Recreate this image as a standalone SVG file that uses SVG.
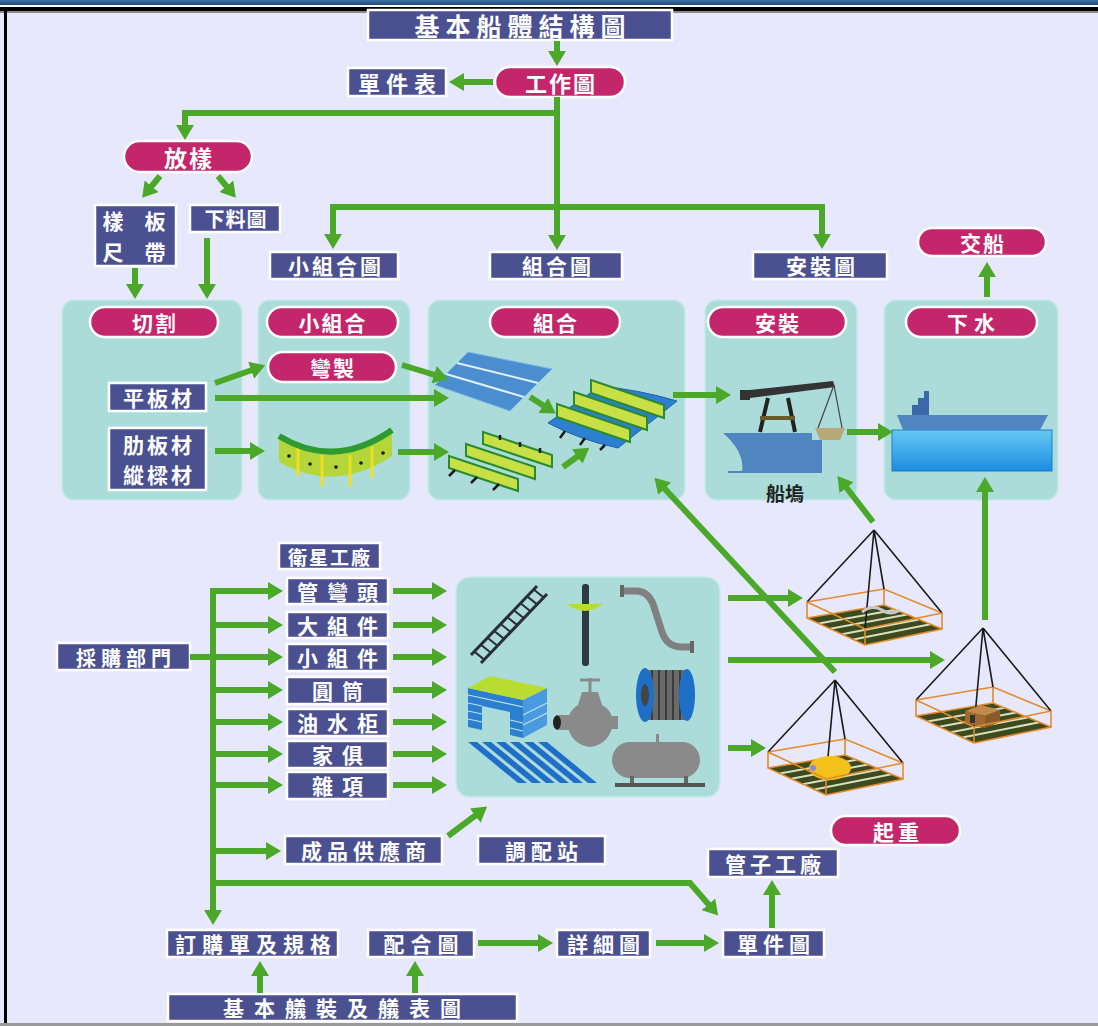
<svg xmlns="http://www.w3.org/2000/svg" width="1098" height="1026" viewBox="0 0 1098 1026">
<defs>
<style>
.box{fill:#4b5090;stroke:#fff;stroke-width:2.5}
.pill{fill:#c4266c;stroke:#fff;stroke-width:2.5}
.panel{fill:#acdcda;stroke:#c6eaea;stroke-width:1.5}
.t{font-family:"Noto Sans CJK TC","Noto Sans CJK SC",sans-serif;font-weight:700;fill:#fff;text-anchor:middle;dominant-baseline:central;font-size:21px}
.c{stroke:#4ca829;stroke-width:6;fill:none;marker-end:url(#ah)}
.ln{stroke:#4ca829;stroke-width:6;fill:none}
.cab{stroke:#1a1a1a;stroke-width:1.6;fill:none}
.fr{stroke:#e38a2c;stroke-width:1.6;fill:none}
</style>
<marker id="ah" markerUnits="userSpaceOnUse" markerWidth="15" markerHeight="18" viewBox="0 0 15 18" refX="1" refY="9" orient="auto"><path d="M0,0 L15,9 L0,18 z" fill="#4ca829"/></marker>
<linearGradient id="band" x1="0" y1="0" x2="0" y2="1"><stop offset="0" stop-color="#3d70a6"/><stop offset="1" stop-color="#22497a"/></linearGradient>
<linearGradient id="water" x1="0" y1="0" x2="0" y2="1"><stop offset="0" stop-color="#66c8f2"/><stop offset="1" stop-color="#1c8ce0"/></linearGradient>
<symbol id="pyr" overflow="visible">
<polygon points="-67,88 10,75 68,99 -9,115" fill="#3c4a1e"/>
<path d="M-55.4,93.4 L21.6,79.8 M-43.8,98.8 L33.2,84.6 M-32.2,104.2 L44.8,89.4 M-20.6,109.6 L56.4,94.2" stroke="#d6dfbf" stroke-width="2"/>
<path class="fr" d="M-67,72 L10,59 L68,83 M10,59 V75 M-67,88 L10,75 L68,99"/>
<path class="cab" d="M0,0 L-67,72 M0,0 L68,83 M0,0 L10,59 M0,0 L-9,99"/>
</symbol>
<symbol id="pyrf" overflow="visible">
<path class="fr" d="M-67,72 L-9,99 L68,83 M-67,72 V88 L-9,115 L68,99 V83 M-9,99 V115"/>
</symbol>
</defs>

<rect width="1098" height="1026" fill="#e8e8fc"/>
<rect width="1098" height="5" fill="url(#band)"/>
<rect y="5" width="1098" height="2" fill="#fff"/>
<rect y="7" width="1098" height="4" fill="#000"/>
<rect y="11" width="1098" height="2" fill="#8a8a8a"/>
<rect x="4" y="7" width="3" height="1019" fill="#000"/>
<rect y="1023" width="1098" height="3" fill="#9a9a9a"/>

<!-- panels -->
<g id="panel-cut"><rect class="panel" x="62" y="300" width="180" height="200" rx="12"/></g>
<g id="panel-subasm"><rect class="panel" x="258" y="300" width="152" height="200" rx="12"/></g>
<g id="panel-asm"><rect class="panel" x="428" y="300" width="257" height="200" rx="12"/></g>
<g id="panel-erect"><rect class="panel" x="705" y="300" width="152" height="200" rx="12"/></g>
<g id="panel-launch"><rect class="panel" x="884" y="300" width="174" height="200" rx="12"/></g>
<g id="panel-parts"><rect class="panel" x="456" y="577" width="264" height="220" rx="14"/></g>

<!-- top nodes -->
<g id="n-title"><rect class="box" x="368" y="10" width="304" height="30"/><text class="t" x="523" y="25" style="font-size:25px;letter-spacing:6px">基本船體結構圖</text></g>
<g id="n-workdwg"><rect class="pill" x="495" y="67" width="130" height="30" rx="15"/><text class="t" x="561" y="82" style="font-size:22px;letter-spacing:2px">工作圖</text></g>
<g id="n-partlist"><rect class="box" x="348" y="68" width="98" height="28"/><text class="t" x="400" y="82" style="font-size:22px;letter-spacing:6px">單件表</text></g>
<g id="n-loft"><rect class="pill" x="124" y="141" width="128" height="31" rx="15.5"/><text class="t" x="189" y="157" style="font-size:23px;letter-spacing:2px">放樣</text></g>
<g id="n-template"><rect class="box" x="95" y="205" width="81" height="61"/><text class="t" x="138" y="220" style="font-size:21px;letter-spacing:8px">樣 板</text><text class="t" x="138" y="251" style="font-size:21px;letter-spacing:8px">尺 帶</text></g>
<g id="n-cutdwg"><rect class="box" x="190" y="205" width="90" height="27"/><text class="t" x="236" y="218" style="font-size:20px;letter-spacing:1px">下料圖</text></g>
<g id="n-subasmdwg"><rect class="box" x="270" y="252" width="128" height="27"/><text class="t" x="336" y="265" style="letter-spacing:3px">小組合圖</text></g>
<g id="n-asmdwg"><rect class="box" x="490" y="252" width="132" height="27"/><text class="t" x="558" y="265" style="letter-spacing:3px">組合圖</text></g>
<g id="n-erectdwg"><rect class="box" x="753" y="252" width="134" height="27"/><text class="t" x="822" y="265" style="letter-spacing:3px">安裝圖</text></g>
<g id="n-delivery"><rect class="pill" x="918" y="228" width="128" height="28" rx="14"/><text class="t" x="983" y="242" style="letter-spacing:2px">交船</text></g>

<!-- panel labels -->
<g id="n-cut"><rect class="pill" x="90" y="307" width="128" height="30" rx="15"/><text class="t" x="155" y="322" style="letter-spacing:2px">切割</text></g>
<g id="n-subasm"><rect class="pill" x="267" y="307" width="131" height="30" rx="15"/><text class="t" x="333" y="322" style="letter-spacing:2px">小組合</text></g>
<g id="n-asm"><rect class="pill" x="490" y="307" width="130" height="30" rx="15"/><text class="t" x="556" y="322" style="letter-spacing:2px">組合</text></g>
<g id="n-erect"><rect class="pill" x="708" y="307" width="138" height="30" rx="15"/><text class="t" x="778" y="322" style="letter-spacing:2px">安裝</text></g>
<g id="n-launch"><rect class="pill" x="906" y="307" width="131" height="30" rx="15"/><text class="t" x="974" y="322" style="letter-spacing:6px">下水</text></g>
<g id="n-bend"><rect class="pill" x="268" y="352" width="128" height="30" rx="15"/><text class="t" x="333" y="367" style="letter-spacing:2px">彎製</text></g>
<g id="n-plate"><rect class="box" x="109" y="383" width="97" height="28"/><text class="t" x="159" y="397" style="letter-spacing:3px">平板材</text></g>
<g id="n-frames"><rect class="box" x="109" y="428" width="97" height="62"/><text class="t" x="159" y="444" style="letter-spacing:3px">肋板材</text><text class="t" x="159" y="474" style="letter-spacing:3px">縱樑材</text></g>

<!-- curved sub-assembly -->
<g id="img-curved">
<path d="M279,436 Q335,470 392,430 L392,456 Q335,494 279,462 Z" fill="#b5d63a"/>
<path d="M298,447 V476 M322,455 V486 M350,455 V486 M372,447 V478" stroke="#f0e020" stroke-width="3"/>
<path d="M279,436 Q335,470 392,430" stroke="#2f9a30" stroke-width="6" fill="none"/>
<g fill="#1a1a1a"><circle cx="289" cy="456" r="1.8"/><circle cx="310" cy="464" r="1.8"/><circle cx="336" cy="467" r="1.8"/><circle cx="361" cy="463" r="1.8"/><circle cx="383" cy="453" r="1.8"/></g>
</g>

<!-- plates -->
<g id="img-plates">
<polygon points="468,352 552,369 510,411 435,385" fill="#4a8ed0" stroke="#7ab8e8" stroke-width="1"/>
<path d="M457,363 L538,383 M446,374 L524,397" stroke="#e2f0fb" stroke-width="2"/>
</g>

<!-- stiffened panel -->
<g id="img-block">
<path d="M548,423 L600,386 Q640,390 677,401 L618,448 Q580,440 548,423 Z" fill="#2d7fd0" stroke="#1f5fa8" stroke-width="1"/>
<g stroke="#1a1a1a" stroke-width="2.5"><path d="M565,431 l-5,7 M585,438 l-5,7 M605,445 l-5,5"/></g>
<g>
<polygon points="591,380 664,405 664,418 591,393" fill="#c8e046" stroke="#2a8a30" stroke-width="2"/>
<polygon points="574,392 647,417 647,430 574,405" fill="#c8e046" stroke="#2a8a30" stroke-width="2"/>
<polygon points="557,404 630,429 630,442 557,417" fill="#c8e046" stroke="#2a8a30" stroke-width="2"/>
</g>
</g>

<!-- loose stiffeners -->
<g id="img-stiff">
<polygon points="483,432 552,455 552,467 483,444" fill="#c8e046" stroke="#2a8a30" stroke-width="2"/>
<polygon points="466,444 535,467 535,479 466,456" fill="#c8e046" stroke="#2a8a30" stroke-width="2"/>
<polygon points="449,456 518,479 518,491 449,468" fill="#c8e046" stroke="#2a8a30" stroke-width="2"/>
<g stroke="#1a1a1a" stroke-width="2.5"><path d="M455,470 l-6,6 M477,477 l-6,6 M499,484 l-6,6 M500,440 l0,-5 M520,447 l0,-5 M540,453 l0,-5"/></g>
</g>

<!-- erection: crane and hull -->
<g id="img-erect">
<path d="M723,433 L812,433 L812,440 L822,440 L822,472 L742,472 Q745,452 723,433 Z" fill="#4f86c0"/>
<path d="M728,472 H822" stroke="#4f86c0" stroke-width="2"/>
<path d="M768,398 L760,432 M788,398 L795,432" stroke="#222" stroke-width="4"/>
<path d="M760,418 H795" stroke="#6b5a2a" stroke-width="4"/>
<polygon points="740,391 833,381 835,387 742,399" fill="#333"/>
<rect x="740" y="390" width="10" height="10" fill="#333"/>
<path d="M834,385 L818,428 M834,385 L842,428" stroke="#444" stroke-width="1.2"/>
<polygon points="815,428 845,428 840,440 820,440" fill="#b8a878"/>
<text x="785" y="492" style="font-family:'Noto Sans CJK TC',sans-serif;font-weight:700;font-size:19px;fill:#222;text-anchor:middle;dominant-baseline:central">船塢</text>
</g>

<!-- launch -->
<g id="img-launch">
<rect x="892" y="430" width="160" height="41" fill="url(#water)" stroke="#1a7fd0" stroke-width="1"/>
<path d="M897,415 L1048,415 L1040,430 L903,430 Z" fill="#4f86c0"/>
<path d="M912,415 V405 H918 V398 H924 V391 H929 V415 Z" fill="#3a68a8"/>
</g>

<!-- purchasing side -->
<g id="n-purchase"><rect class="box" x="57" y="643" width="133" height="27"/><text class="t" x="126" y="657" style="font-size:20px;letter-spacing:5px">採購部門</text></g>
<g id="n-satellite"><rect class="box" x="279" y="543" width="101" height="26"/><text class="t" x="330" y="556" style="font-size:19px;letter-spacing:2px">衛星工廠</text></g>
<g id="n-pipebend"><rect class="box" x="287" y="578" width="101" height="26"/><text class="t" x="342" y="591" style="letter-spacing:9px">管彎頭</text></g>
<g id="n-bigunit"><rect class="box" x="287" y="612" width="101" height="26"/><text class="t" x="342" y="625" style="letter-spacing:9px">大組件</text></g>
<g id="n-smallunit"><rect class="box" x="287" y="644" width="101" height="27"/><text class="t" x="342" y="657" style="letter-spacing:9px">小組件</text></g>
<g id="n-cylinder"><rect class="box" x="287" y="677" width="101" height="27"/><text class="t" x="342" y="690" style="letter-spacing:9px">圓筒</text></g>
<g id="n-tank"><rect class="box" x="287" y="709" width="101" height="27"/><text class="t" x="342" y="722" style="letter-spacing:9px">油水柜</text></g>
<g id="n-furniture"><rect class="box" x="287" y="741" width="101" height="27"/><text class="t" x="342" y="754" style="letter-spacing:9px">家俱</text></g>
<g id="n-misc"><rect class="box" x="287" y="772" width="101" height="27"/><text class="t" x="342" y="785" style="letter-spacing:9px">雜項</text></g>
<g id="n-supplier"><rect class="box" x="285" y="836" width="157" height="28"/><text class="t" x="366" y="850" style="letter-spacing:5px">成品供應商</text></g>
<g id="n-station"><rect class="box" x="478" y="836" width="127" height="28"/><text class="t" x="544" y="850" style="letter-spacing:5px">調配站</text></g>
<g id="n-hoist"><rect class="pill" x="831" y="816" width="129" height="29" rx="14.5"/><text class="t" x="898" y="831" style="letter-spacing:4px">起重</text></g>
<g id="n-pipeshop"><rect class="box" x="708" y="849" width="130" height="28"/><text class="t" x="775" y="863" style="letter-spacing:4px">管子工廠</text></g>
<g id="n-partdwg"><rect class="box" x="723" y="930" width="101" height="27"/><text class="t" x="776" y="943" style="letter-spacing:5px">單件圖</text></g>
<g id="n-detail"><rect class="box" x="557" y="930" width="93" height="27"/><text class="t" x="606" y="943" style="letter-spacing:5px">詳細圖</text></g>
<g id="n-coord"><rect class="box" x="368" y="930" width="106" height="27"/><text class="t" x="424" y="943" style="letter-spacing:6px">配合圖</text></g>
<g id="n-order"><rect class="box" x="167" y="930" width="171" height="27"/><text class="t" x="256" y="943" style="letter-spacing:6px">訂購單及規格</text></g>
<g id="n-outfit"><rect class="box" x="168" y="994" width="349" height="27"/><text class="t" x="347" y="1007" style="letter-spacing:10px">基本艤裝及艤表圖</text></g>

<!-- parts illustrations -->
<g id="img-parts">
<g stroke="#2a2e3a">
<path d="M471,655 L537,586 M481,663 L547,594" stroke-width="3"/>
<path d="M474.3,651.6 L484.3,659.6 M480.9,644.7 L490.9,652.7 M487.5,637.8 L497.5,645.8 M494.1,630.9 L504.1,638.9 M500.7,624 L510.7,632 M507.3,617.1 L517.3,625.1 M513.9,610.2 L523.9,618.2 M520.5,603.3 L530.5,611.3 M527.1,596.4 L537.1,604.4 M533.7,589.5 L543.7,597.5" stroke-width="2"/>
</g>
<rect x="582" y="584" width="7" height="82" rx="3" fill="#2f3a40"/>
<path d="M567,604 Q585,618 603,604 Z" fill="#b8dc30"/>
<path d="M622,591 H636 Q650,591 655,610 L662,632 Q667,647 682,647 H692" stroke="#808080" stroke-width="7" fill="none"/>
<rect x="620" y="585" width="4" height="12" fill="#666"/><rect x="690" y="641" width="4" height="12" fill="#666"/>
<polygon points="468,688 523,700 523,738 510,735 510,712 482,706 482,730 468,727" fill="#2a7fd0"/>
<polygon points="523,700 547,688 547,725 523,738" fill="#4a9ae0"/>
<path d="M468,695 L523,707 M468,703 L482,706 M468,711 L482,714 M468,719 L482,722 M510,720 L523,723 M510,728 L523,731 M523,715 L547,703 M523,725 L547,713" stroke="#bfe0f8" stroke-width="1.2"/>
<polygon points="468,688 490,676 547,688 523,700" fill="#b8dc30"/>
<path d="M590,678 V693 M580,680 H600" stroke="#8a8a8a" stroke-width="3"/>
<path d="M582,692 H598 L602,705 Q615,712 612,728 Q607,745 590,747 Q573,745 568,728 Q566,712 578,705 Z" fill="#8a8a8a"/>
<rect x="556" y="715" width="18" height="15" fill="#8a8a8a"/><ellipse cx="557" cy="722.5" rx="4" ry="7" fill="#222"/>
<rect x="608" y="716" width="10" height="13" fill="#8a8a8a"/>
<rect x="645" y="670" width="42" height="50" fill="#6a6a6a"/>
<path d="M652,670 V720 M659,670 V720 M666,670 V720 M673,670 V720 M680,670 V720" stroke="#3c3c3c" stroke-width="2"/>
<ellipse cx="687" cy="695" rx="8" ry="26" fill="#1e6fc8"/>
<ellipse cx="645" cy="695" rx="9" ry="27" fill="#1e6fc8"/>
<ellipse cx="645" cy="695" rx="4" ry="11" fill="#444"/>
<g fill="#1f6fc8">
<polygon points="468,742 477,742 527,783 518,783"/>
<polygon points="482,742 491,742 541,783 532,783"/>
<polygon points="496,742 505,742 555,783 546,783"/>
<polygon points="510,742 519,742 569,783 560,783"/>
<polygon points="524,742 533,742 583,783 574,783"/>
<polygon points="538,742 547,742 597,783 588,783"/>
</g>
<rect x="656" y="734" width="3" height="9" fill="#8a8a8a"/>
<rect x="612" y="742" width="88" height="36" rx="18" fill="#8a8a8a"/>
<rect x="630" y="776" width="4" height="8" fill="#666"/><rect x="684" y="776" width="4" height="8" fill="#666"/>
<rect x="615" y="783" width="90" height="4" fill="#555"/>
</g>

<!-- pyramids -->
<g id="pyr1" transform="translate(874,530)">
<use href="#pyr"/>
<path d="M-12,82 q10,-8 20,-2 q8,6 18,0" stroke="#c8c8c8" stroke-width="3" fill="none"/>
<use href="#pyrf"/>
</g>
<g id="pyr2" transform="translate(983,628)">
<use href="#pyr"/>
<polygon points="-18,83 -2,77 17,82 2,88" fill="#c48a4a"/>
<polygon points="-18,83 2,88 2,100 -18,95" fill="#a06a30"/>
<polygon points="2,88 17,82 17,94 2,100" fill="#8a5a28"/>
<rect x="-13" y="87" width="5" height="8" fill="#333"/>
<use href="#pyrf"/>
</g>
<g id="pyr3" transform="translate(835,680)">
<use href="#pyr"/>
<ellipse cx="-5" cy="88" rx="21" ry="12" fill="#f2c21a"/>
<circle cx="-22" cy="88" r="3" fill="#8a8ad0"/>
<use href="#pyrf"/>
</g>

<!-- connectors -->
<g id="connectors">
<path class="c" d="M557,41 V52"/>
<path class="c" d="M493,82 H463"/>
<path class="c" d="M557,97 V236"/>
<path class="c" d="M557,113 H185 V126"/>
<path class="c" d="M333,207 V235"/>
<path class="c" d="M330,207 H822 V235"/>
<path class="c" d="M160,176 L151,187"/>
<path class="c" d="M218,176 L227,187"/>
<path class="c" d="M135,268 V285"/>
<path class="c" d="M207,238 V285"/>
<path class="c" d="M987,297 V276"/>
<path class="c" d="M215,383 L252,370"/>
<path class="c" d="M215,398 H435"/>
<path class="c" d="M402,365 L435,375"/>
<path class="c" d="M215,451 H251"/>
<path class="c" d="M398,452 H435"/>
<path class="c" d="M530,397 L544,406"/>
<path class="c" d="M563,467 L578,456"/>
<path class="c" d="M673,395 H717"/>
<path class="c" d="M847,432 H879"/>
<path class="c" d="M835,672 L664,488"/>
<path class="c" d="M873,522 L846,487"/>
<path class="c" d="M985,620 V491"/>
<path class="c" d="M728,598 H789"/>
<path class="c" d="M728,660 H931"/>
<path class="c" d="M728,748 H752"/>
<path class="ln" d="M190,657 H213"/>
<path class="c" d="M213,588 V911"/>
<path class="c" d="M210,591 H269"/>
<path class="c" d="M213,625 H269"/>
<path class="c" d="M213,657 H269"/>
<path class="c" d="M213,690 H269"/>
<path class="c" d="M213,722 H269"/>
<path class="c" d="M213,754 H269"/>
<path class="c" d="M213,785 H269"/>
<path class="c" d="M213,851 H267"/>
<path class="c" d="M213,883 H690 L709,905"/>
<path class="c" d="M393,591 H433"/>
<path class="c" d="M393,625 H433"/>
<path class="c" d="M393,657 H433"/>
<path class="c" d="M393,690 H433"/>
<path class="c" d="M393,722 H433"/>
<path class="c" d="M393,754 H433"/>
<path class="c" d="M393,785 H433"/>
<path class="c" d="M448,836 L476,815"/>
<path class="c" d="M478,943 H539"/>
<path class="c" d="M656,943 H705"/>
<path class="c" d="M772,928 V894"/>
<path class="c" d="M260,993 V975"/>
<path class="c" d="M415,993 V975"/>
</g>
</svg>
